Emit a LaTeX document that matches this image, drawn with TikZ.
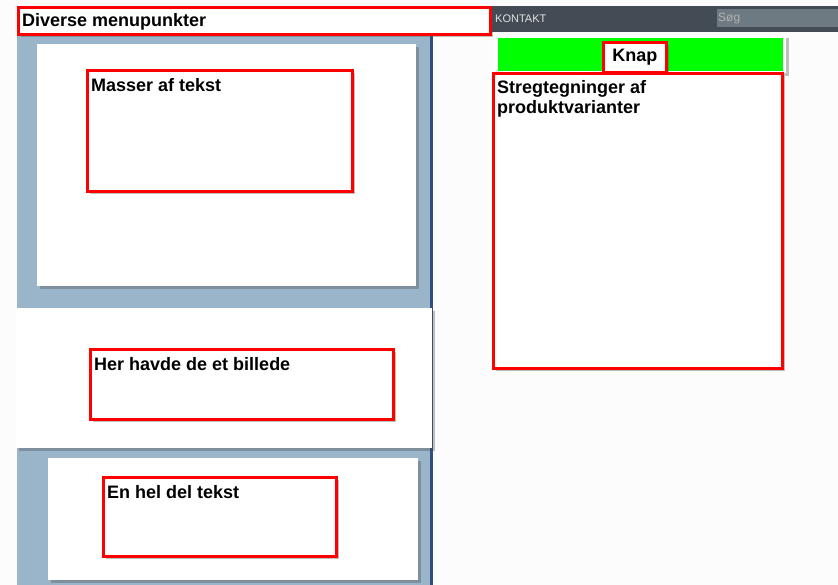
\documentclass[tikz,border=0pt]{standalone}
\usepackage{fontspec}
\setmainfont{Liberation Sans}
\usepackage{xcolor}
\usepackage{tikz}
\usetikzlibrary{positioning,shadows}

\definecolor{ColumnBlue}{HTML}{9AB4CA}
\definecolor{ColumnEdge}{HTML}{2F4F7F}
\definecolor{BarGray}{HTML}{434C55}
\definecolor{FieldGray}{HTML}{6E7A82}
\definecolor{KnapGreen}{HTML}{00FF00}

\begin{document}
\begin{tikzpicture}[x=1pt,y=-1pt,
  panel/.style={fill=white,draw=none,anchor=north west,inner sep=0pt,
    drop shadow={shadow xshift=2.5pt,shadow yshift=-2.5pt,opacity=0.35,fill=black!70}},
  redbox/.style={draw=red,line width=2.6pt,fill=white,anchor=north west,inner sep=0pt,
    drop shadow={shadow xshift=2.5pt,shadow yshift=-2.5pt,opacity=0.35,fill=black!70}},
  boxtext/.style={anchor=north west,inner xsep=5pt,inner ysep=9pt,align=left,
    font=\bfseries\fontsize{18}{20}\selectfont}]

\useasboundingbox (0,0) rectangle (838,585);
\fill[white!99!black] (0,0) rectangle (838,585);

% Left column and top bar
\fill[ColumnBlue] (17,20) rectangle (431,585);
\fill[ColumnEdge] (430,33) rectangle (433,585);
\fill[BarGray] (490,6) rectangle (838,32);
\node[fill=FieldGray,anchor=north west,minimum width=121pt,minimum height=18pt,inner sep=0pt] (field) at (717,9) {};
\node[anchor=west,inner sep=1pt,text=black!12,font=\fontsize{11}{12}\selectfont] (kontakt) at (494,19) {KONTAKT};
\node[anchor=west,inner sep=1pt,text=black!30,font=\fontsize{12}{12}\selectfont] (soeg) at (field.west) {Søg};

% White panels in the column
\node[panel,minimum width=379pt,minimum height=242pt] (toppanel) at (37,44) {};
\node[panel,minimum width=416pt,minimum height=140pt] (midpanel) at (16,308) {};
\node[panel,minimum width=370pt,minimum height=122pt] (botpanel) at (48,458) {};

% Menu box
\node[redbox,minimum width=472pt,minimum height=27pt] (menu) at (17,6) {};
\node[boxtext,inner ysep=7pt] (menutext) at (menu.north west) {Diverse menupunkter};

% Boxes on the left
\node[redbox,minimum width=265pt,minimum height=121pt] (masser) at (86,69) {};
\node[boxtext] (massertext) at (masser.north west) {Masser af tekst};

\node[redbox,minimum width=303pt,minimum height=70pt] (billede) at (89,348) {};
\node[boxtext] (billedetext) at (billede.north west) {Her havde de et billede};

\node[redbox,minimum width=233pt,minimum height=79pt] (delen) at (102,476) {};
\node[boxtext] (delentext) at (delen.north west) {En hel del tekst};

% Button bar
\node[panel,minimum width=292pt,minimum height=38pt] (knapbar) at (494,35) {};
\node[fill=KnapGreen,anchor=north west,minimum width=285pt,minimum height=33pt,inner sep=0pt] (green) at (498,38) {};
\node[redbox,minimum width=63pt,minimum height=30pt,font=\bfseries\fontsize{18}{20}\selectfont] (knap) at (602,41) {Knap};

% Drawings box
\node[redbox,minimum width=289pt,minimum height=295pt] (streg) at (492,72) {};
\node[boxtext,inner ysep=8pt] (stregtext) at (streg.north west) {Stregtegninger af\\produktvarianter};

\end{tikzpicture}
\end{document}
